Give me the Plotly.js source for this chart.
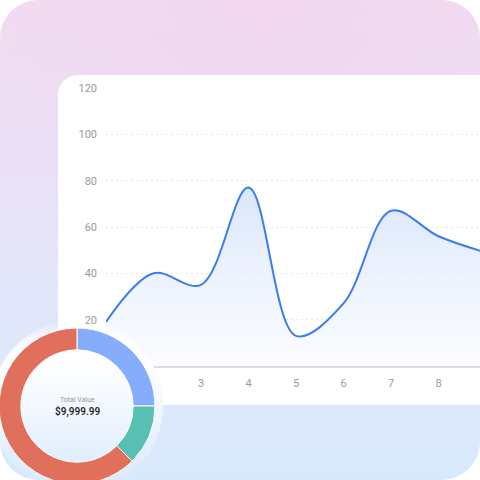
<!DOCTYPE html>
<html>
<head>
<meta charset="utf-8">
<script src="https://cdn.plot.ly/plotly-3.0.1.min.js"></script>
<style>
  html, body { margin:0; padding:0; background:#ffffff; width:480px; height:480px; overflow:hidden; }
  #frame { position:absolute; left:0; top:0; width:480px; height:480px; border-radius:38px; overflow:hidden;
    background: linear-gradient(180deg, #f2dbf0 0%, #ece0f6 30%, #e2e6fa 60%, #d9e9fc 100%); }
  #tint { position:absolute; left:0; top:0; width:480px; height:480px;
    background: radial-gradient(ellipse 60% 40% at 55% 5%, rgba(240,214,238,0.8), rgba(240,214,238,0) 100%); }
  #card { position:absolute; left:58px; top:75px; width:460px; height:330px; background:#ffffff; border-radius:20px; }
  #line { position:absolute; left:0; top:0; width:480px; height:480px; }
  #glow { position:absolute; left:-9px; top:320px; width:172px; height:172px; border-radius:50%;
    background: linear-gradient(180deg, rgba(255,255,255,0) 0%, rgba(255,255,255,0.7) 11%, #ffffff 20%, #f8fbff 40%, #deedfd 85%, #d8eafc 100%); }
  #pie { position:absolute; left:-1px; top:328px; width:156px; height:156px; }
</style>
</head>
<body>
<div id="frame">
  <div id="tint"></div>
  <div id="card"></div>
  <div id="line"></div>
  <div id="glow"></div>
  <div id="pie"></div>
</div>
<script>
// Line chart data
const xValues = [1, 2, 3, 4, 5, 6, 7, 8, 9];
const yValues = [19, 40, 35, 77, 13, 27, 67, 56, 49];
const yTicks = [0, 20, 40, 60, 80, 100, 120];
const xTicks = [1, 2, 3, 4, 5, 6, 7, 8, 9];

// Donut data
const segLabels = ['A', 'B', 'C'];
const segValues = [25, 12.5, 62.5];
const segColors = ['#86adfc', '#58bfb4', '#e0705b'];
const centerTitle = 'Total Value';
const centerValue = '$9,999.99';

const fontFam = 'Roboto, "Noto Sans", sans-serif';

Plotly.newPlot('line', [{
  x: xValues, y: yValues, type: 'scatter', mode: 'lines',
  line: { color: '#3b7cf0', width: 2, shape: 'spline', smoothing: 1 },
  fill: 'tozeroy',
  fillgradient: { type: 'vertical', colorscale: [[0, 'rgba(248,250,255,0.6)'], [1, 'rgba(212,226,251,0.85)']] },
  hoverinfo: 'none'
}], {
  width: 480, height: 480,
  margin: { l: 106, r: 0, t: 88, b: 114 },
  paper_bgcolor: 'rgba(0,0,0,0)', plot_bgcolor: 'rgba(0,0,0,0)',
  showlegend: false,
  font: { family: fontFam, size: 11, color: '#9a9a9a' },
  xaxis: { range: [1, 8.874], tickvals: xTicks, ticktext: xTicks.map(String), showgrid: false, zeroline: false,
    showline: true, linecolor: '#dcdcdc', linewidth: 2, ticks: '', ticklabelstandoff: 6, fixedrange: true },
  yaxis: { range: [0, 120], tickvals: yTicks, ticktext: yTicks.map(String), showgrid: true, gridcolor: '#e9e9e9',
    griddash: '2px,3px', gridwidth: 1, zeroline: false, showline: false, ticks: '', ticklabelstandoff: 8, fixedrange: true }
}, { staticPlot: true, displayModeBar: false });

Plotly.newPlot('pie', [{
  type: 'pie', labels: segLabels, values: segValues, hole: 0.72, sort: false, direction: 'clockwise', rotation: 0,
  marker: { colors: segColors, line: { color: '#ffffff', width: 1 } },
  textinfo: 'none', hoverinfo: 'none'
}], {
  width: 156, height: 156,
  margin: { l: 0, r: 0, t: 0, b: 0 },
  paper_bgcolor: 'rgba(0,0,0,0)', showlegend: false,
  annotations: [
    { text: centerTitle, x: 0.5, y: 0.538, xref: 'paper', yref: 'paper', showarrow: false,
      font: { family: fontFam, size: 7, color: '#9a9a9a' } },
    { text: centerValue, x: 0.5, y: 0.462, xref: 'paper', yref: 'paper', showarrow: false,
      font: { family: fontFam, size: 10, color: '#2a2a2a', weight: 600 } }
  ]
}, { staticPlot: true, displayModeBar: false });
</script>
</body>
</html>
